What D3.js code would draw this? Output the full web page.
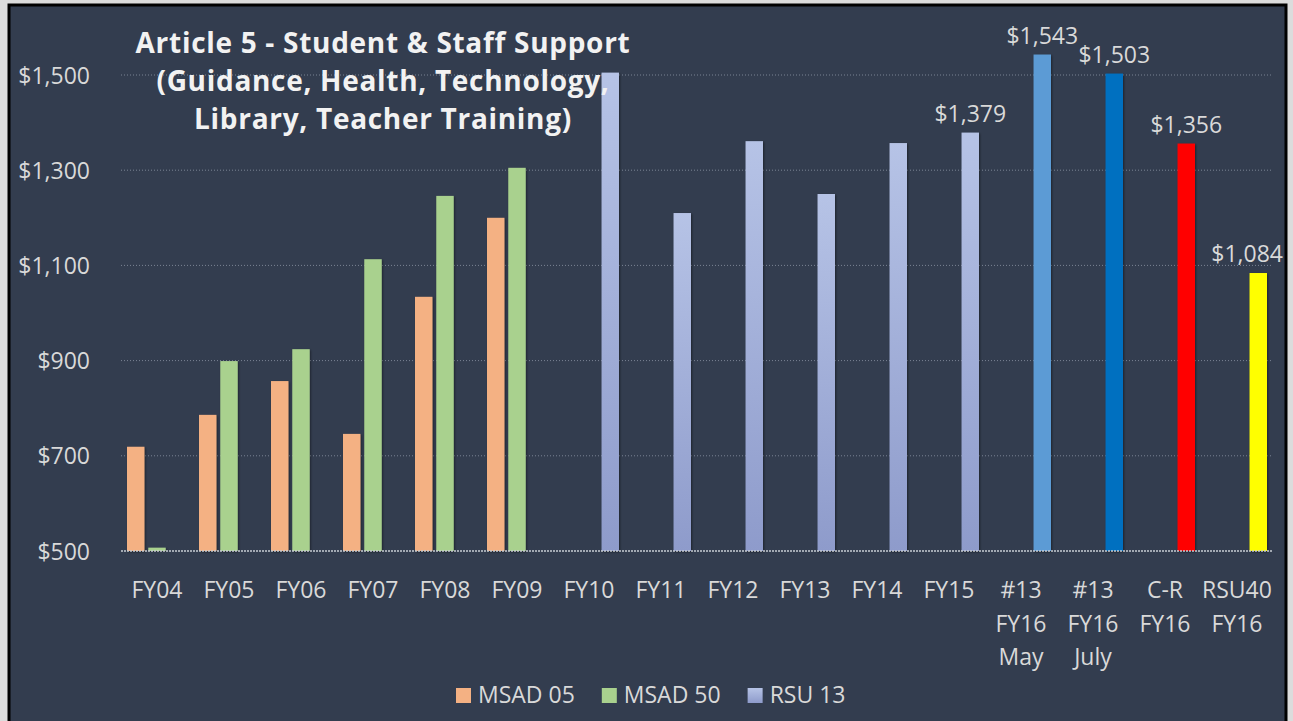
<!DOCTYPE html>
<html>
<head>
<meta charset="utf-8">
<script src="https://cdn.jsdelivr.net/npm/d3@7"></script>
<style>
  html, body { margin: 0; padding: 0; background: #dcdcdc; }
  svg { display: block; }
  text { font-family: "Open Sans", Lato, sans-serif; }
</style>
</head>
<body>
<svg id="chart" width="1293" height="721"></svg>
<script>
// ---- data ----
var categories = ["FY04", "FY05", "FY06", "FY07", "FY08", "FY09", "FY10", "FY11", "FY12", "FY13", "FY14", "FY15",
  "#13 FY16 May", "#13 FY16 July", "C-R FY16", "RSU40 FY16"]
var catLines = [["FY04"], ["FY05"], ["FY06"], ["FY07"], ["FY08"], ["FY09"], ["FY10"], ["FY11"], ["FY12"], ["FY13"], ["FY14"], ["FY15"],
  ["#13", "FY16", "May"], ["#13", "FY16", "July"], ["C-R", "FY16"], ["RSU40", "FY16"]]
var seriesNames = ["MSAD 05", "MSAD 50", "RSU 13"]
var msad05 = [719, 786, 857, 746, 1034, 1200, null, null, null, null, null, null, null, null, null, null]
var msad50 = [507, 899, 924, 1113, 1246, 1305, null, null, null, null, null, null, null, null, null, null]
var rsu13 = [null, null, null, null, null, null, 1505, 1210, 1361, 1250, 1357, 1379, 1543, 1503, 1356, 1084]
var rsuPointColors = [null, null, null, null, null, null, null, null, null, null, null, null, "#5b9bd5", "#0070c0", "#ff0000", "#ffff00"]
var labelled = [11, 12, 13, 14, 15]
var yTicks = [500, 700, 900, 1100, 1300, 1500]
var titleLines = ["Article 5 - Student & Staff Support", "(Guidance, Health, Technology,", "Library, Teacher Training)"]

var seriesColors = { "MSAD 05": "#f4b183", "MSAD 50": "#a9d18e", "RSU 13": "url(#rsuGrad)" }

var svg = d3.select("#chart")
var defs = svg.append("defs")
var grad = defs.append("linearGradient").attr("id", "rsuGrad").attr("x1", 0).attr("y1", 0).attr("x2", 0).attr("y2", 1)
grad.append("stop").attr("offset", "0%").attr("stop-color", "#b6c3e6")
grad.append("stop").attr("offset", "100%").attr("stop-color", "#8e9bcb")
var shadow = defs.append("filter").attr("id", "shadow").attr("x", "-30%").attr("y", "-10%").attr("width", "160%").attr("height", "120%")
shadow.append("feDropShadow").attr("dx", 1).attr("dy", 1).attr("stdDeviation", 1).attr("flood-color", "#000").attr("flood-opacity", 0.45)

// frame
svg.append("rect").attr("x", 9).attr("y", 5).attr("width", 1277).attr("height", 730)
  .attr("fill", "#333d4f").attr("stroke", "#000").attr("stroke-width", 3)

var x = d3.scaleBand().domain(categories).range([121, 1273]).paddingInner(0).paddingOuter(0)
var xs = d3.scaleBand().domain(seriesNames).range([-30, 30]).paddingInner(0.18)
var y = d3.scaleLinear().domain([500, 1600]).range([551, 27.4])
var fs = "23px"

// gridlines
svg.append("g").selectAll("line").data(yTicks.slice(1)).join("line")
  .attr("x1", x.range()[0]).attr("x2", x.range()[1])
  .attr("y1", d => y(d)).attr("y2", d => y(d))
  .attr("stroke", "#7b8494").attr("stroke-width", 1).attr("stroke-dasharray", "1,2")

// y axis labels
var yAxis = svg.append("g").attr("transform", "translate(90,0)")
  .call(d3.axisLeft(y).tickValues(yTicks).tickSize(0).tickPadding(0).tickFormat(d => "$" + d3.format(",")(d)))
yAxis.select(".domain").remove()
yAxis.selectAll("text").attr("fill", "#d9d9d9").style("font-size", fs).attr("dy", "0.35em")

// bars
var rows = []
categories.forEach((c, i) => {
  if (msad05[i] != null) rows.push({ cat: c, s: "MSAD 05", v: msad05[i], fill: seriesColors["MSAD 05"] })
  if (msad50[i] != null) rows.push({ cat: c, s: "MSAD 50", v: msad50[i], fill: seriesColors["MSAD 50"] })
  if (rsu13[i] != null) rows.push({ cat: c, s: "RSU 13", v: rsu13[i], fill: rsuPointColors[i] || seriesColors["RSU 13"], idx: i })
})
svg.append("g").selectAll("rect").data(rows).join("rect")
  .attr("x", d => x(d.cat) + x.bandwidth() / 2 + xs(d.s))
  .attr("width", xs.bandwidth())
  .attr("y", d => y(d.v))
  .attr("height", d => y(500) - y(d.v))
  .attr("fill", d => d.fill)
  .attr("filter", "url(#shadow)")

// baseline
svg.append("line").attr("x1", x.range()[0]).attr("x2", x.range()[1]).attr("y1", y(500)).attr("y2", y(500))
  .attr("stroke", "#c8cdd4").attr("stroke-width", 1.5).attr("stroke-dasharray", "2,1")

// data labels
var lbl = svg.append("g").selectAll("text").data(labelled).join("text")
  .attr("x", i => x(categories[i]) + x.bandwidth() / 2 + xs("RSU 13") + xs.bandwidth() / 2)
  .attr("y", i => y(rsu13[i]) - 11)
  .attr("text-anchor", "middle").attr("fill", "#d9d9d9").style("font-size", fs)
  .text(i => "$" + d3.format(",")(rsu13[i]))
lbl.each(function () {
  var b = this.getBBox()
  var over = b.x + b.width - 1283
  if (over > 0) d3.select(this).attr("x", +d3.select(this).attr("x") - over)
})

// x labels
var xl = svg.append("g").selectAll("text").data(categories).join("text")
  .attr("x", d => x(d) + x.bandwidth() / 2)
  .attr("y", 598)
  .attr("text-anchor", "middle").attr("fill", "#d9d9d9").style("font-size", fs)
xl.selectAll("tspan").data((d, i) => catLines[i]).join("tspan")
  .attr("x", function () { return this.parentNode.getAttribute("x") })
  .attr("dy", (d, j) => j == 0 ? 0 : 33.5)
  .text(d => d)

// title
svg.append("g").selectAll("text").data(titleLines).join("text")
  .attr("x", 383).attr("y", (d, i) => 53 + i * 38)
  .attr("text-anchor", "middle").attr("fill", "#f2f2f2")
  .style("font-size", "28px").style("font-weight", "bold").style("letter-spacing", "0.7px")
  .text(d => d)

// legend
var legend = svg.append("g").attr("transform", "translate(456,695)")
var lx = 0
seriesNames.forEach(s => {
  var g = legend.append("g").attr("transform", "translate(" + lx + ",0)")
  g.append("rect").attr("x", 0).attr("y", -7).attr("width", 15).attr("height", 15).attr("fill", seriesColors[s])
  var t = g.append("text").attr("x", 22).attr("y", 0).attr("dy", "0.35em").attr("fill", "#d9d9d9").style("font-size", fs).text(s)
  lx += 22 + t.node().getComputedTextLength() + 27
})
</script>
</body>
</html>
